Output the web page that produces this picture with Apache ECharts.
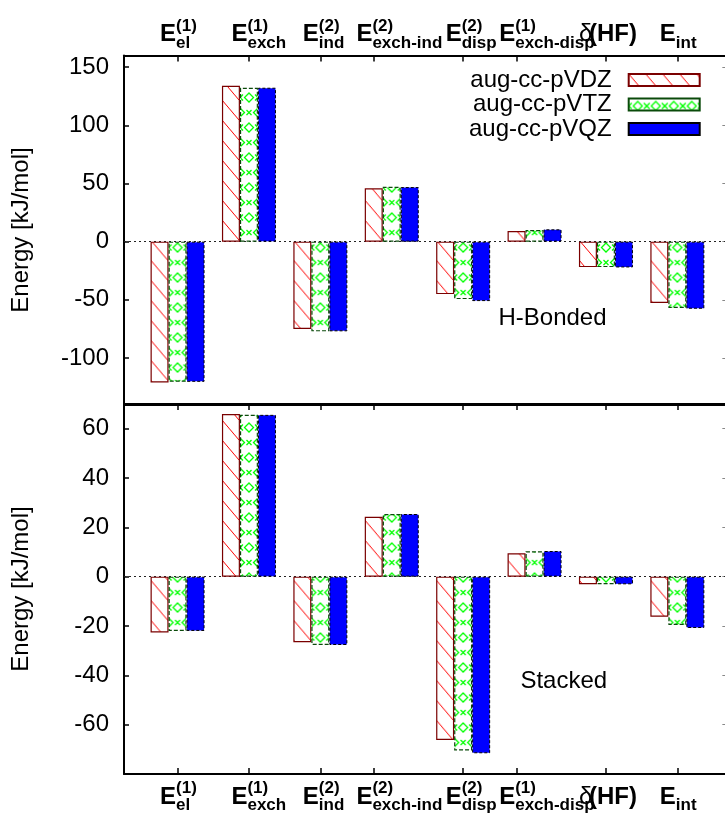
<!DOCTYPE html>
<html><head><meta charset="utf-8">
<script src="https://cdn.jsdelivr.net/npm/echarts@6/dist/echarts.min.js"></script>
<style>html,body{margin:0;padding:0;background:#fff}#c{width:725px;height:815px}</style>
</head><body><div id="c"></div>
<script>
// ---------- data ----------
const categories = ['E_el(1)', 'E_exch(1)', 'E_ind(2)', 'E_exch-ind(2)', 'E_disp(2)', 'E_exch-disp(1)', 'δ(HF)', 'E_int'];
const seriesNames = ['aug-cc-pVDZ', 'aug-cc-pVTZ', 'aug-cc-pVQZ'];
const hbondVDZ = [-121.0, 134.0, -75.1, 45.8, -45.1, 9.2, -21.9, -52.8];
const hbondVTZ = [-120.5, 132.3, -77.1, 47.1, -49.4, 10.0, -21.9, -57.1];
const hbondVQZ = [-120.5, 132.3, -77.1, 46.9, -51.1, 10.6, -22.2, -57.7];
const stackVDZ = [-22.6, 65.9, -26.6, 24.3, -66.2, 9.5, -3.1, -16.2];
const stackVTZ = [-22.0, 65.6, -27.7, 25.4, -70.5, 10.3, -3.1, -19.6];
const stackVQZ = [-22.0, 65.6, -27.7, 25.4, -71.6, 10.4, -3.1, -20.8];
const hbondTicks = [-100, -50, 0, 50, 100, 150];
const stackTicks = [-60, -40, -20, 0, 20, 40, 60];
const xTickPositions = [0, 1, 2, 2.75, 4, 4.75, 6, 7];
const xLabelPositions = [-0.245, 0.755, 1.755, 2.505, 3.755, 4.505, 5.623, 6.755];
const xLabelTexts = [
  '{sp| }{sup|(1)}\n{E|E}{sub|el}',
  '{sp| }{sup|(1)}\n{E|E}{sub|exch}',
  '{sp| }{sup|(2)}\n{E|E}{sub|ind}',
  '{sp| }{sup|(2)}\n{E|E}{sub|exch-ind}',
  '{sp| }{sup|(2)}\n{E|E}{sub|disp}',
  '{sp| }{sup|(1)}\n{E|E}{sub|exch-disp}',
  '{sp| }\n{d|δ}{E|(HF)}',
  '{sp| }\n{E|E}{sub|int}'
];
const panelTexts = ['H-Bonded', 'Stacked'];
const yTitle = 'Energy [kJ/mol]';

// ---------- layout ----------
const FONT = 'Liberation Sans, Arial, Helvetica, sans-serif';
const UNIT = 71.4;               // px per category
const X_MIN = -0.75, X_MAX = 7.7;
const FRAME_LEFT = 124;
const FRAME_W = (X_MAX - X_MIN) * UNIT;
const BAR_LEFT = FRAME_LEFT + (-0.5 - X_MIN) * UNIT;
const BAR_W = categories.length * UNIT;
const BARW = 18;
const panels = [
  {top: 55.5, height: 349, min: -140, max: 160, ticks: hbondTicks},
  {top: 404, height: 370, min: -80, max: 70, ticks: stackTicks}
];

// ---------- patterns ----------
function hatchCanvas() {
  const w = 17, h = 20, c = document.createElement('canvas');
  c.width = w; c.height = h;
  const g = c.getContext('2d');
  g.fillStyle = '#fff'; g.fillRect(0, 0, w, h);
  g.strokeStyle = '#ff0000'; g.lineWidth = 1;
  g.beginPath(); g.moveTo(-2, -2 * h / w); g.lineTo(w + 2, h + 2 * h / w); g.stroke();
  return c;
}
function greenCanvas() {
  const w = 18, h = 30, c = document.createElement('canvas');
  c.width = w; c.height = h;
  const g = c.getContext('2d');
  g.fillStyle = '#fff'; g.fillRect(0, 0, w, h);
  g.strokeStyle = '#00ff00'; g.lineWidth = 1.3;
  function diamond(x, y, r) { g.beginPath(); g.moveTo(x, y - r); g.lineTo(x + r, y); g.lineTo(x, y + r); g.lineTo(x - r, y); g.closePath(); g.stroke(); }
  function cross(x, y, r) { g.beginPath(); g.moveTo(x - r, y - r); g.lineTo(x + r, y + r); g.moveTo(x + r, y - r); g.lineTo(x - r, y + r); g.stroke(); }
  diamond(9, 7.5, 4.5); cross(9, 22.5, 2.5);
  cross(0, 7.5, 3); cross(18, 7.5, 3);
  diamond(0, 22.5, 4.5); diamond(18, 22.5, 4.5);
  return c;
}
const HATCH = hatchCanvas(), GREEN = greenCanvas();

const styles = [
  {color: {image: HATCH, repeat: 'repeat'}, borderColor: '#7a0000', borderWidth: 1.2, borderType: 'solid'},
  {color: {image: GREEN, repeat: 'repeat'}, borderColor: '#0a4a0a', borderWidth: 1.2, borderType: [4, 2]},
  {color: '#0000ff', borderColor: '#000', borderWidth: 1, borderType: [3, 2]}
];

function barData(values, sIdx) {
  return values.map((v, i) => {
    if (sIdx === 2) return v;
    const left = BAR_LEFT + i * UNIT + (UNIT - 3 * BARW) / 2 + sIdx * BARW;
    return {value: v, itemStyle: {color: {image: sIdx === 0 ? HATCH : GREEN, repeat: 'repeat', x: left, y: 0}}};
  });
}

const labelRich = {
  sp: {width: 16, fontSize: 17, lineHeight: 5, fontFamily: FONT},
  sup: {fontSize: 17, fontWeight: 'bold', lineHeight: 5, verticalAlign: 'top', fontFamily: FONT, color: '#000'},
  E: {fontSize: 24, fontWeight: 'bold', lineHeight: 29, verticalAlign: 'top', fontFamily: FONT, color: '#000'},
  d: {fontSize: 24, fontWeight: 'normal', lineHeight: 29, verticalAlign: 'top', width: 10, fontFamily: FONT, color: '#000'},
  sub: {fontSize: 17, fontWeight: 'bold', lineHeight: 17, verticalAlign: 'bottom', fontFamily: FONT, color: '#000'}
};
function xFmt(v) {
  let best = 0;
  xLabelPositions.forEach((p, i) => { if (Math.abs(p - v) < Math.abs(xLabelPositions[best] - v)) best = i; });
  return xLabelTexts[best];
}

const grid = [], xAxis = [], yAxis = [], series = [];
const AXL = {show: true, onZero: false, lineStyle: {color: '#000', width: 2}};
panels.forEach((p, k) => {
  grid.push({left: FRAME_LEFT, width: FRAME_W, top: p.top, height: p.height, outerBoundsMode: 'none', containLabel: false});
  grid.push({left: BAR_LEFT, width: BAR_W, top: p.top, height: p.height, outerBoundsMode: 'none', containLabel: false});
  const gF = 2 * k, gB = 2 * k + 1;
  const labelSide = k === 0 ? 'top' : 'bottom';
  const otherSide = k === 0 ? 'bottom' : 'top';
  const xl = xAxis.length;
  xAxis.push({gridIndex: gF, type: 'value', position: labelSide, min: X_MIN, max: X_MAX,
    axisLine: AXL, splitLine: {show: false},
    axisTick: {show: true, inside: true, length: 6, customValues: xTickPositions, lineStyle: {color: '#000', width: 1.5}},
    axisLabel: {show: true, customValues: xLabelPositions, formatter: xFmt, align: 'left', margin: k === 0 ? 4 : 6, rich: labelRich}});
  xAxis.push({gridIndex: gF, type: 'value', position: otherSide, min: X_MIN, max: X_MAX,
    axisLine: AXL, splitLine: {show: false},
    axisTick: {show: k === 1, inside: true, length: 6, customValues: xTickPositions, lineStyle: {color: '#000', width: 1.5}},
    axisLabel: {show: false}});
  xAxis.push({gridIndex: gB, type: 'category', data: categories, show: false});
  const yl = yAxis.length;
  yAxis.push({gridIndex: gF, type: 'value', position: 'left', min: p.min, max: p.max,
    name: yTitle, nameLocation: 'middle', nameGap: 91,
    nameTextStyle: {fontSize: 24, fontFamily: FONT, color: '#000'},
    axisLine: AXL, splitLine: {show: false},
    axisTick: {show: true, inside: true, length: 5, customValues: p.ticks, lineStyle: {color: '#000', width: 1.5}},
    axisLabel: {show: true, customValues: p.ticks, margin: 15, fontSize: 24, fontFamily: FONT, color: '#000'}});
  yAxis.push({gridIndex: gF, type: 'value', position: 'right', min: p.min, max: p.max,
    axisLine: AXL, splitLine: {show: false},
    axisTick: {show: true, inside: true, length: 5, customValues: p.ticks, lineStyle: {color: '#888', width: 1}},
    axisLabel: {show: false}});
  yAxis.push({gridIndex: gB, type: 'value', min: p.min, max: p.max, show: false});
  series.push({type: 'line', xAxisIndex: xl, yAxisIndex: yl, data: [], z: 1, silent: true,
    markLine: {silent: true, symbol: 'none', label: {show: false}, z: 1,
      lineStyle: {color: '#222', type: [2, 3], width: 1.2}, data: [{yAxis: 0}]}});
  const vals = k === 0 ? [hbondVDZ, hbondVTZ, hbondVQZ] : [stackVDZ, stackVTZ, stackVQZ];
  vals.forEach((v, s) => {
    series.push({type: 'bar', name: seriesNames[s], xAxisIndex: xl + 2, yAxisIndex: yl + 2,
      barWidth: BARW, barGap: '0%', z: 3, itemStyle: styles[s], data: barData(v, s)});
  });
});

const chart = echarts.init(document.getElementById('c'), null, {renderer: 'canvas'});
chart.setOption({
  animation: false,
  backgroundColor: '#fff',
  grid, xAxis, yAxis, series,
  legend: {data: seriesNames, orient: 'vertical', right: 24.3, top: 67.7, padding: 0,
    align: 'right', icon: 'rect', itemWidth: 71, itemHeight: 12, itemGap: 0,
    textStyle: {fontSize: 24, fontFamily: FONT, color: '#000', lineHeight: 24.5, padding: [0, 12, 0, 0]}},
  graphic: [
    {type: 'text', x: 552.5, y: 318, style: {text: panelTexts[0], font: '24px ' + FONT, fill: '#000', textAlign: 'center', textVerticalAlign: 'middle'}},
    {type: 'text', x: 563.8, y: 681, style: {text: panelTexts[1], font: '24px ' + FONT, fill: '#000', textAlign: 'center', textVerticalAlign: 'middle'}}
  ]
});
</script></body></html>
